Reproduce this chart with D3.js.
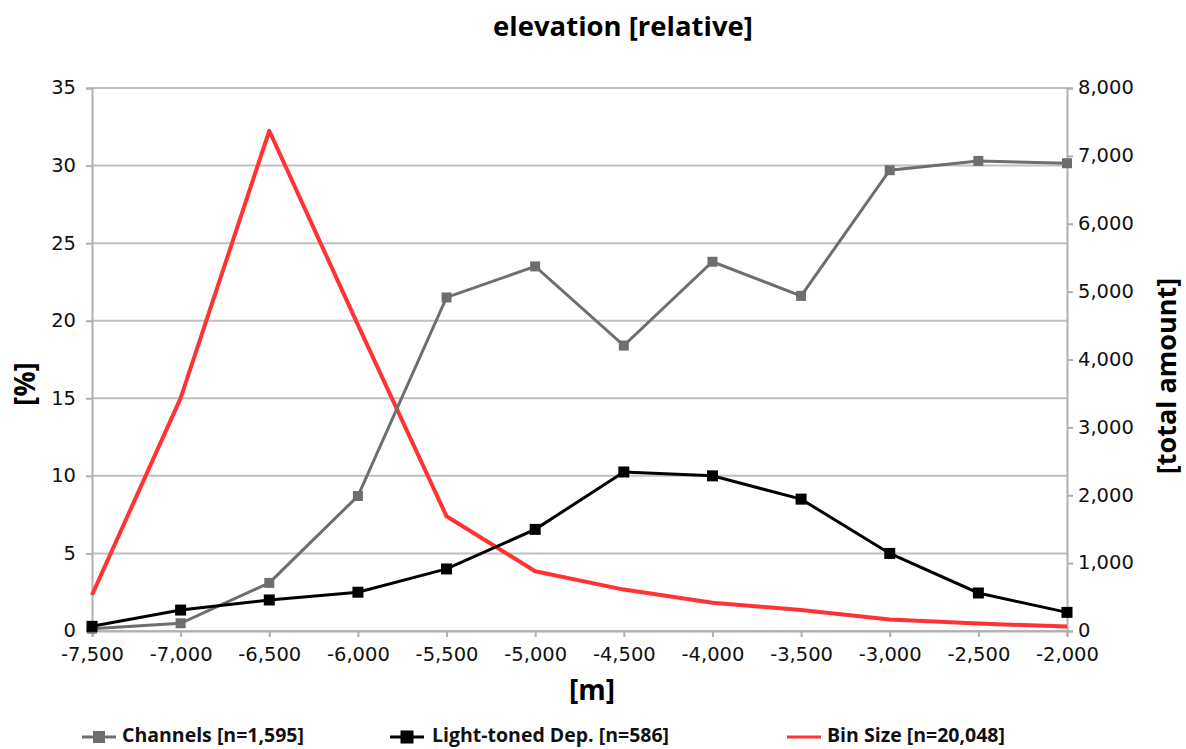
<!DOCTYPE html>
<html><head><meta charset="utf-8">
<script src="https://cdn.jsdelivr.net/npm/d3@7"></script>
<style>body{margin:0;background:#fff}svg{display:block}</style>
</head><body>
<svg id="c" width="1186" height="749"></svg>
<script>
const elevations = [-7500,-7000,-6500,-6000,-5500,-5000,-4500,-4000,-3500,-3000,-2500,-2000];
const channels = [0.15,0.5,3.1,8.7,21.5,23.5,18.4,23.8,21.6,29.7,30.3,30.15];
const lightToned = [0.3,1.35,2.0,2.5,4.0,6.55,10.25,10.0,8.5,5.0,2.45,1.2];
const binSize = [530,3430,7370,4510,1690,880,610,415,310,170,110,65];
const leftTicks = [0,5,10,15,20,25,30,35];
const rightTicks = [0,1000,2000,3000,4000,5000,6000,7000,8000];
const seriesNames = ["Channels [n=1,595]","Light-toned Dep. [n=586]","Bin Size [n=20,048]"];

const svg = d3.select("#c");
const L = 92, R = 1067, T = 88, B = 631;
const x = d3.scaleLinear().domain([-7500,-2000]).range([L,R]);
const yL = d3.scaleLinear().domain([0,35]).range([B,T]);
const yR = d3.scaleLinear().domain([0,8000]).range([B,T]);
const font = "'DejaVu Sans', Verdana, sans-serif";
const bold = "'Open Sans', 'DejaVu Sans', sans-serif";
const fmt = d => d3.format(",")(d).replace("\u2212","-");

// gridlines
svg.append("g").selectAll("line").data(leftTicks).join("line")
  .attr("x1",L).attr("x2",R).attr("y1",d=>yL(d)).attr("y2",d=>yL(d))
  .attr("stroke","#c0c0c0").attr("stroke-width",2);

function styleAxis(g){
  g.select(".domain").attr("stroke","#b0b0b0").attr("stroke-width",2);
  g.selectAll(".tick line").attr("stroke","#b0b0b0").attr("stroke-width",2);
  g.selectAll("text").attr("font-family",font).attr("font-size",19.5).attr("fill","#111");
}
// left axis
const gl = svg.append("g").attr("transform",`translate(${L},0)`)
  .call(d3.axisLeft(yL).tickValues(leftTicks).tickSize(6).tickPadding(10).tickFormat(fmt));
styleAxis(gl);
gl.selectAll("text").attr("dy","0.3em");

// right axis
const gr = svg.append("g").attr("transform",`translate(${R},0)`)
  .call(d3.axisRight(yR).tickValues(rightTicks).tickSize(6).tickPadding(5).tickFormat(fmt));
styleAxis(gr);
gr.selectAll("text").attr("dy","0.3em");

// bottom axis
const gb = svg.append("g").attr("transform",`translate(0,${B})`)
  .call(d3.axisBottom(x).tickValues(elevations).tickSize(6).tickPadding(10).tickFormat(fmt));
styleAxis(gb);

// series
const idx = d3.range(elevations.length);
const lineL = vals => d3.line().x(i=>x(elevations[i])).y(i=>yL(vals[i]));
const lineR = vals => d3.line().x(i=>x(elevations[i])).y(i=>yR(vals[i]));

svg.append("path").datum(idx).attr("d",lineR(binSize)).attr("fill","none")
  .attr("stroke","#ff3333").attr("stroke-width",4).attr("stroke-linejoin","round");

svg.append("path").datum(idx).attr("d",lineL(channels)).attr("fill","none")
  .attr("stroke","#6e6e6e").attr("stroke-width",3);
svg.append("g").selectAll("rect").data(idx).join("rect")
  .attr("x",i=>x(elevations[i])-5).attr("y",i=>yL(channels[i])-5)
  .attr("width",10).attr("height",10).attr("fill","#6e6e6e");

svg.append("path").datum(idx).attr("d",lineL(lightToned)).attr("fill","none")
  .attr("stroke","#000").attr("stroke-width",3);
svg.append("g").selectAll("rect").data(idx).join("rect")
  .attr("x",i=>x(elevations[i])-5.5).attr("y",i=>yL(lightToned[i])-5.5)
  .attr("width",11).attr("height",11).attr("fill","#000");

// titles
svg.append("text").attr("x",623).attr("y",36).attr("text-anchor","middle")
  .attr("font-family",bold).attr("font-weight","bold").attr("font-size",27.5).text("elevation [relative]");
svg.append("text").attr("x",592).attr("y",700).attr("text-anchor","middle")
  .attr("font-family",bold).attr("font-weight","bold").attr("font-size",28).text("[m]");
svg.append("text").attr("transform","translate(35,384) rotate(-90)").attr("text-anchor","middle")
  .attr("font-family",bold).attr("font-weight","bold").attr("font-size",28).text("[%]");
svg.append("text").attr("transform","translate(1176,376) rotate(-90)").attr("text-anchor","middle")
  .attr("font-family",bold).attr("font-weight","bold").attr("font-size",27).text("[total amount]");

// legend
const legY = 737;
const leg = [{x:82,t:122,c:"#6e6e6e",m:true,s:10},{x:390,t:432,c:"#000",m:true,s:11},{x:787,t:827,c:"#ff3333",m:false}];
leg.forEach((l,i)=>{
  const g = svg.append("g");
  g.append("line").attr("x1",l.x).attr("x2",l.x+34).attr("y1",legY).attr("y2",legY)
    .attr("stroke",l.c).attr("stroke-width",3);
  if(l.m) g.append("rect").attr("x",l.x+17-l.s/2-1).attr("y",legY-l.s/2-1).attr("width",l.s+2).attr("height",l.s+2).attr("fill",l.c);
  g.append("text").attr("x",l.t).attr("y",742).attr("font-family",bold).attr("font-weight","bold")
    .attr("font-size",19.5).attr("fill","#111").text(seriesNames[i]);
});
</script>
</body></html>
